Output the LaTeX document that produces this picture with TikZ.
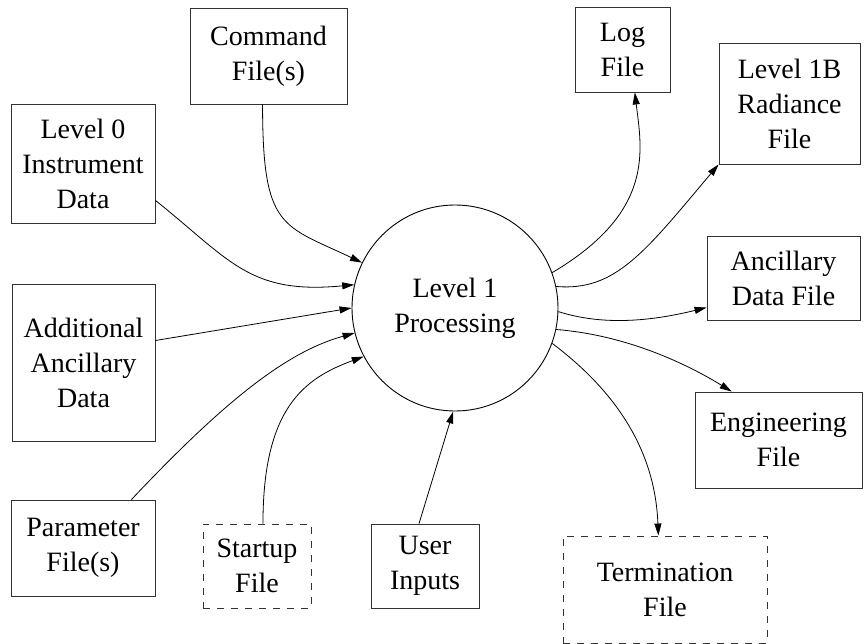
\documentclass[tikz,border=0pt]{standalone}
\usepackage{fontspec}
\setmainfont{Liberation Serif}
\usetikzlibrary{arrows.meta}

\begin{document}
\begin{tikzpicture}[x=1pt,y=-1pt,
        file/.style={shape=rectangle,draw=black!80,line width=0.9pt,align=center,inner sep=0pt,font=\fontsize{28}{35}\selectfont},
        tmpfile/.style={file,dash pattern=on 7pt off 7pt},
        flow/.style={-{Triangle[length=12pt,width=7pt]},line width=0.8pt}]
        \useasboundingbox (0,0) rectangle (864,644);

        \node[shape=circle,draw=black,line width=0.9pt,minimum size=206pt,inner sep=0pt,align=center,font=\fontsize{28}{35}\selectfont] (proc) at (455,308) {Level 1\\Processing};

        % inputs
        \node[file,minimum width=157pt,minimum height=96pt] (cmd) at (268.5,56) {Command\\File(s)};
        \node[file,minimum width=144pt,minimum height=119pt] (lzero) at (83,163.5) {Level 0\\Instrument\\Data};
        \node[file,minimum width=143pt,minimum height=157pt] (addanc) at (83.5,362.5) {Additional\\Ancillary\\Data};
        \node[file,minimum width=144pt,minimum height=96pt] (param) at (83,548) {Parameter\\File(s)};
        \node[tmpfile,minimum width=108pt,minimum height=84pt] (startup) at (257,566) {Startup\\File};
        \node[file,minimum width=108pt,minimum height=84pt] (user) at (425,566) {User\\Inputs};

        % outputs
        \node[file,minimum width=95pt,minimum height=85pt] (log) at (622.5,49.5) {Log\\File};
        \node[file,minimum width=141pt,minimum height=121pt] (lonebee) at (789.5,103.5) {Level 1B\\Radiance\\File};
        \node[file,minimum width=153pt,minimum height=84pt] (anc) at (783.5,278) {Ancillary\\Data File};
        \node[file,minimum width=167pt,minimum height=96pt] (eng) at (778.5,440) {Engineering\\File};
        \node[tmpfile,minimum width=204pt,minimum height=107pt] (term) at (665,589.5) {Termination\\File};

        \draw[flow] (cmd.263.5) .. controls +(0,125) and +(-80,-38) .. (proc.154);
        \draw[flow] (lzero.-27) .. controls +(75,60) and +(-105,10) .. (proc.167);
        \draw[flow] (addanc.17.5) -- (proc.180);
        \draw[flow] (param.45) .. controls +(98,-104) and +(-65,18) .. (proc.194.6);
        \draw[flow] (startup.82) .. controls +(0,-115) and +(-60,22) .. (proc.208);
        \draw[flow] (user.98) -- (proc.269);

        \draw[flow] (proc.20.9) .. controls +(103,-61) and +(7,58) .. (log.-74);
        \draw[flow] (proc.12.8) .. controls +(59,5) and +(-74,88) .. (lonebee.south west);
        \draw[flow] (proc.-2.3) .. controls +(44,14) and +(-57,14) .. (anc.201);
        \draw[flow] (proc.-12.3) .. controls +(64,5) and +(-52,-32) .. (eng.134);
        \draw[flow] (proc.-20.9) .. controls +(73,55) and +(-3,-76) .. (term.97.5);
    \end{tikzpicture}
\end{document}
